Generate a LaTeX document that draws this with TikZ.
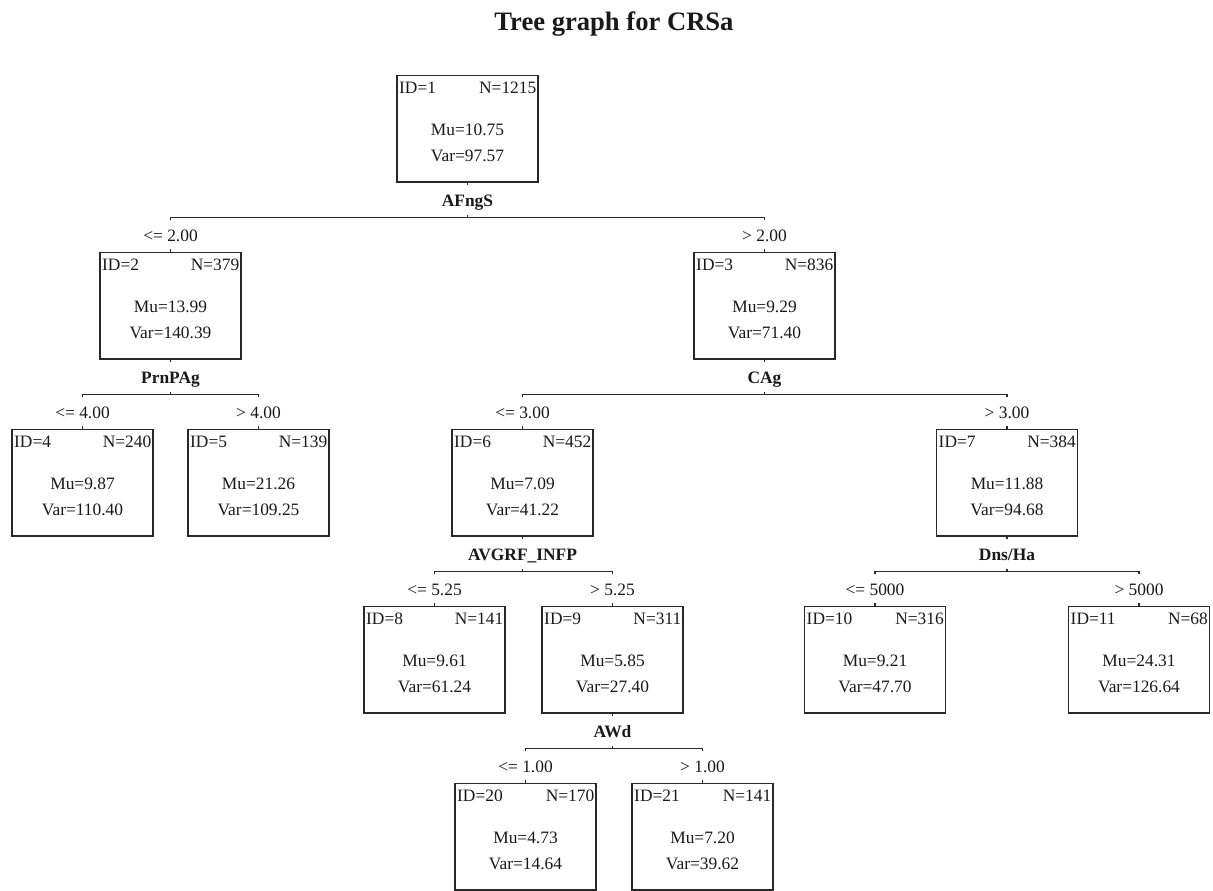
\documentclass[tikz,border=0pt]{standalone}
\usepackage{fontspec}
\setmainfont{Liberation Serif}
\usepackage{xcolor}
\usepackage{tikz}
\usetikzlibrary{calc,positioning}
\definecolor{treeInk}{RGB}{25,25,25}
\definecolor{treeFrame}{RGB}{40,40,40}

\tikzset{
    nodebox/.style={draw=treeFrame, line width=1.3pt, minimum width=141pt, minimum height=106.5pt, inner sep=0pt, outer sep=0pt},
    boxtext/.style={text=treeInk, inner sep=0pt, font=\fontsize{17.4}{20}\selectfont},
    splitvar/.style={fill=white, text=treeInk, inner xsep=2pt, inner ysep=0pt, text height=21.75pt, text depth=8.25pt, anchor=base, font=\bfseries\fontsize{17.4}{20}\selectfont},
    cond/.style={fill=white, text=treeInk, inner xsep=2pt, inner ysep=0pt, text height=21.5pt, text depth=7.5pt, anchor=base, font=\fontsize{17.4}{20}\selectfont},
    edge/.style={draw=treeFrame, line width=1.1pt}
}

% name, centre, ID, N, Mu, Var
\newcommand{\treebox}[6]{%
    \node[nodebox] (#1) at (#2) {};
    \node[boxtext, anchor=base west] (#1id) at ($(#1.north west)+(2,17.5)$) {ID=#3};
    \node[boxtext, anchor=base east] (#1n) at ($(#1.north east)+(-1.5,17.5)$) {N=#4};
    \node[boxtext, anchor=base] (#1mu) at ($(#1.north)+(0,60)$) {Mu=#5};
    \node[boxtext, anchor=base] (#1var) at ($(#1.north)+(0,86)$) {Var=#6};
}

\begin{document}
\begin{tikzpicture}[x=1pt,y=-1pt]
    \useasboundingbox (0,0) rectangle (1213,891);
    \node[anchor=base, text=treeInk, font=\bfseries\fontsize{26.6}{30}\selectfont] (title) at (614,31) {Tree graph for CRSa};

    \treebox{n1}{467.5,128.75}{1}{1215}{10.75}{97.57}
    \treebox{n2}{170.5,305.75}{2}{379}{13.99}{140.39}
    \treebox{n3}{764.5,305.75}{3}{836}{9.29}{71.40}
    \treebox{n4}{82.5,482.75}{4}{240}{9.87}{110.40}
    \treebox{n5}{258.5,482.75}{5}{139}{21.26}{109.25}
    \treebox{n6}{522.5,482.75}{6}{452}{7.09}{41.22}
    \treebox{n7}{1007,482.75}{7}{384}{11.88}{94.68}
    \treebox{n8}{434.5,659.75}{8}{141}{9.61}{61.24}
    \treebox{n9}{612.5,659.75}{9}{311}{5.85}{27.40}
    \treebox{n10}{875,659.75}{10}{316}{9.21}{47.70}
    \treebox{n11}{1139,659.75}{11}{68}{24.31}{126.64}
    \treebox{n20}{525.5,836.75}{20}{170}{4.73}{14.64}
    \treebox{n21}{702.5,836.75}{21}{141}{7.20}{39.62}

    % splits
    \coordinate (b1) at ($(n1.south)+(0,35.5)$);
    \draw[edge] (n1.south) -- (b1);
    \draw[edge] (n2.north) |- (b1) -| (n3.north);
    \node[splitvar] (s1) at ($(n1.south)+(0,24.75)$) {AFngS};
    \node[cond] (c2) at ($(n2.north)+(0,-11)$) {<= 2.00};
    \node[cond] (c3) at ($(n3.north)+(0,-11)$) {> 2.00};

    \coordinate (b2) at ($(n2.south)+(0,35.5)$);
    \draw[edge] (n2.south) -- (b2);
    \draw[edge] (n4.north) |- (b2) -| (n5.north);
    \node[splitvar] (s2) at ($(n2.south)+(0,24.75)$) {PrnPAg};
    \node[cond] (c4) at ($(n4.north)+(0,-11)$) {<= 4.00};
    \node[cond] (c5) at ($(n5.north)+(0,-11)$) {> 4.00};

    \coordinate (b3) at ($(n3.south)+(0,35.5)$);
    \draw[edge] (n3.south) -- (b3);
    \draw[edge] (n6.north) |- (b3) -| (n7.north);
    \node[splitvar] (s3) at ($(n3.south)+(0,24.75)$) {CAg};
    \node[cond] (c6) at ($(n6.north)+(0,-11)$) {<= 3.00};
    \node[cond] (c7) at ($(n7.north)+(0,-11)$) {> 3.00};

    \coordinate (b6) at ($(n6.south)+(0,35.5)$);
    \draw[edge] (n6.south) -- (b6);
    \draw[edge] (n8.north) |- (b6) -| (n9.north);
    \node[splitvar] (s6) at ($(n6.south)+(0,24.75)$) {AVGRF\_INFP};
    \node[cond] (c8) at ($(n8.north)+(0,-11)$) {<= 5.25};
    \node[cond] (c9) at ($(n9.north)+(0,-11)$) {> 5.25};

    \coordinate (b7) at ($(n7.south)+(0,35.5)$);
    \draw[edge] (n7.south) -- (b7);
    \draw[edge] (n10.north) |- (b7) -| (n11.north);
    \node[splitvar] (s7) at ($(n7.south)+(0,24.75)$) {Dns/Ha};
    \node[cond] (c10) at ($(n10.north)+(0,-11)$) {<= 5000};
    \node[cond] (c11) at ($(n11.north)+(0,-11)$) {> 5000};

    \coordinate (b9) at ($(n9.south)+(0,35.5)$);
    \draw[edge] (n9.south) -- (b9);
    \draw[edge] (n20.north) |- (b9) -| (n21.north);
    \node[splitvar] (s9) at ($(n9.south)+(0,24.75)$) {AWd};
    \node[cond] (c20) at ($(n20.north)+(0,-11)$) {<= 1.00};
    \node[cond] (c21) at ($(n21.north)+(0,-11)$) {> 1.00};
\end{tikzpicture}
\end{document}
